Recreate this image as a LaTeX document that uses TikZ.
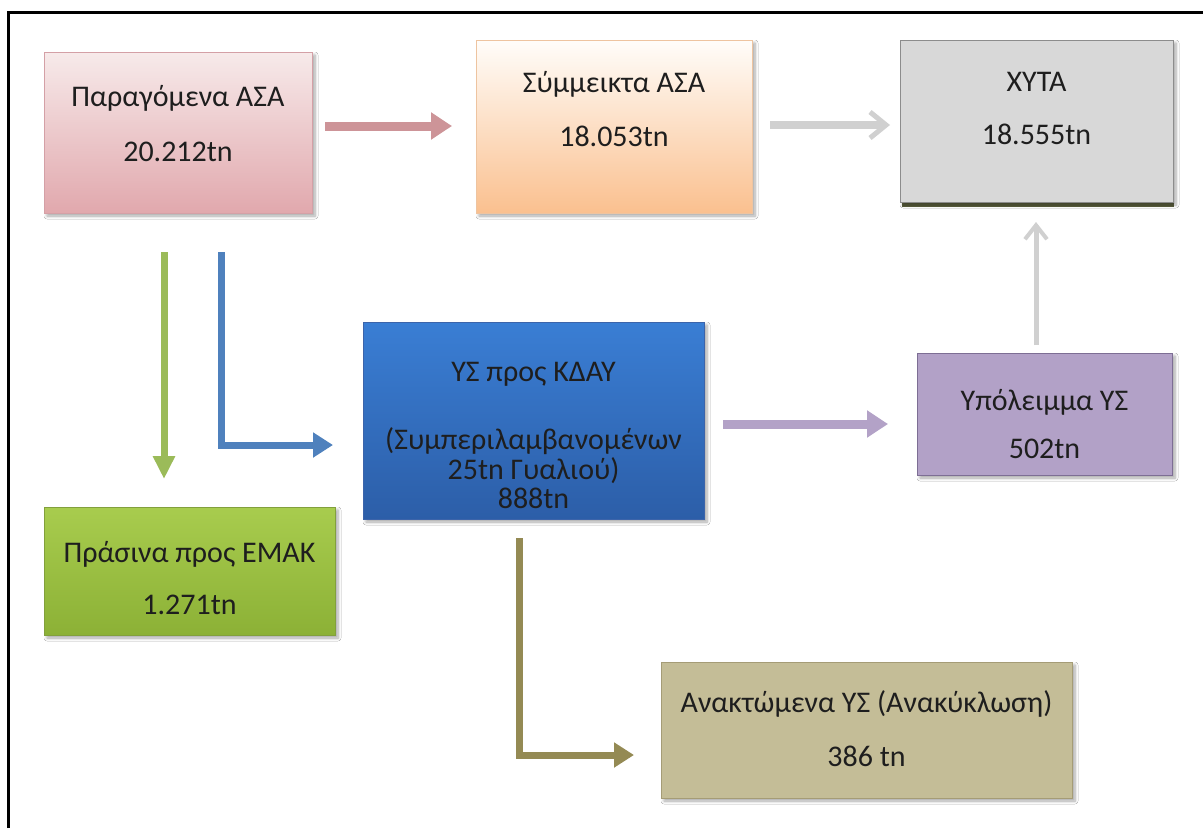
\documentclass[tikz,border=0pt]{standalone}
\usepackage{fontspec}
\setmainfont{Carlito}
\usetikzlibrary{arrows.meta,shadows.blur}
\definecolor{txt}{RGB}{30,30,30}
\definecolor{pinkA}{RGB}{205,148,152}
\definecolor{grayA}{RGB}{208,208,208}
\definecolor{greenA}{RGB}{155,187,89}
\definecolor{blueA}{RGB}{79,129,189}
\definecolor{purpleA}{RGB}{179,162,199}
\definecolor{oliveA}{RGB}{148,138,84}
\definecolor{pinkT}{RGB}{247,234,234}
\definecolor{pinkB}{RGB}{225,168,173}
\definecolor{pinkD}{RGB}{212,160,166}
\definecolor{peachT}{RGB}{255,253,250}
\definecolor{peachB}{RGB}{250,192,143}
\definecolor{peachD}{RGB}{238,196,160}
\definecolor{grayF}{RGB}{216,216,216}
\definecolor{grayD}{RGB}{140,140,140}
\definecolor{blueT}{RGB}{58,126,212}
\definecolor{blueB}{RGB}{44,94,168}
\definecolor{blueD}{RGB}{60,100,170}
\definecolor{purpleF}{RGB}{178,161,199}
\definecolor{purpleD}{RGB}{125,110,148}
\definecolor{greenT}{RGB}{168,204,78}
\definecolor{greenB}{RGB}{140,177,54}
\definecolor{greenD}{RGB}{130,160,60}
\definecolor{tanF}{RGB}{196,189,151}
\definecolor{tanD}{RGB}{165,156,118}
\definecolor{xytaS}{RGB}{92,96,62}
\tikzset{
  box/.style={rectangle, inner sep=0pt, line width=0.8pt,
    blur shadow={shadow xshift=3pt, shadow yshift=-3pt, shadow blur radius=3pt, shadow blur steps=6, shadow opacity=35}},
  lbl/.style={font=\fontsize{30}{34}\selectfont, text=txt, inner sep=0pt, anchor=base},
  fatarrow/.style={line width=9pt, -{Triangle[length=21pt,width=26pt]}},
  midarrow/.style={line width=7pt, -{Triangle[length=20pt,width=24pt]}},
  greyarrow/.style={draw=grayA, line width=8pt, -{Straight Barb[length=16pt,width=26pt,line width=5pt]}},
  greyarrowthin/.style={draw=grayA, line width=5pt, -{Straight Barb[length=14pt,width=22pt,line width=4pt]}}
}
\begin{document}
\begin{tikzpicture}[x=1pt,y=-1pt]
\useasboundingbox (0,0) rectangle (1203,828);
\fill[white] (0,0) rectangle (1203,828);
\draw[line width=3pt] (8,828) -- (8,12) -- (1203,12);

% boxes
\node[box, draw=pinkD, top color=pinkT, bottom color=pinkB,
  minimum width=268pt, minimum height=161pt] (b1) at (178,132.5) {};
\node[box, draw=peachD, top color=peachT, bottom color=peachB,
  minimum width=276pt, minimum height=173pt] (b2) at (614,126.5) {};
\fill[xytaS] (902,199) rectangle (1174,207);
\node[box, draw=grayD, fill=grayF,
  minimum width=273pt, minimum height=162pt] (b3) at (1036.5,121) {};
\node[box, draw=blueD, top color=blueT, bottom color=blueB,
  minimum width=341pt, minimum height=197pt] (b4) at (533.5,420.5) {};
\node[box, draw=purpleD, fill=purpleF,
  minimum width=255pt, minimum height=122pt] (b5) at (1044.5,414) {};
\node[box, draw=greenD, top color=greenT, bottom color=greenB,
  minimum width=291pt, minimum height=128pt] (b6) at (189.5,571) {};
\node[box, draw=tanD, fill=tanF,
  minimum width=411pt, minimum height=136pt] (b7) at (866.5,730) {};

% texts
\node[lbl] (t1a) at (178,106) {Παραγόμενα ΑΣΑ};
\node[lbl] (t1b) at (178,161) {20.212tn};
\node[lbl] (t2a) at (614,92) {Σύμμεικτα ΑΣΑ};
\node[lbl] (t2b) at (614,146) {18.053tn};
\node[lbl] (t3a) at (1036.5,91) {ΧΥΤΑ};
\node[lbl] (t3b) at (1036.5,144) {18.555tn};
\node[lbl] (t4a) at (533.5,381) {ΥΣ προς ΚΔΑΥ};
\node[lbl] (t4b) at (533.5,449) {(Συμπεριλαμβανομένων};
\node[lbl] (t4c) at (533.5,479) {25tn Γυαλιού)};
\node[lbl] (t4d) at (533.5,508) {888tn};
\node[lbl] (t5a) at (1044.5,410) {Υπόλειμμα ΥΣ};
\node[lbl] (t5b) at (1044.5,458) {502tn};
\node[lbl] (t6a) at (189.5,562) {Πράσινα προς ΕΜΑΚ};
\node[lbl] (t6b) at (189.5,614) {1.271tn};
\node[lbl] (t7a) at (866.5,712) {Ανακτώμενα ΥΣ (Ανακύκλωση)};
\node[lbl] (t7b) at (866.5,766) {386 tn};

% connector end points
\coordinate (p1s) at (325,126);
\coordinate (p1e) at (452,126);
\coordinate (g1s) at (770,125);
\coordinate (g1e) at (890,125);
\coordinate (g2s) at (1036,345);
\coordinate (g2e) at (1036,222);
\coordinate (grs) at (164,252);
\coordinate (gre) at (164,479);
\coordinate (bls) at (221,252);
\coordinate (blc) at (221,445);
\coordinate (ble) at (333,445);
\coordinate (pus) at (723,424);
\coordinate (pue) at (888,424);
\coordinate (ols) at (519,538);
\coordinate (olc) at (519,755);
\coordinate (ole) at (634,755);

% connectors
\draw[fatarrow, draw=pinkA] (p1s) -- (p1e);
\draw[greyarrow] (g1s) -- (g1e);
\draw[greyarrowthin] (g2s) -- (g2e);
\draw[draw=greenA, line width=7pt, -{Triangle[length=23pt,width=21pt]}] (grs) -- (gre);
\draw[midarrow, draw=blueA] (bls) -- (blc) -- (ble);
\draw[fatarrow, draw=purpleA] (pus) -- (pue);
\draw[midarrow, draw=oliveA] (ols) -- (olc) -- (ole);
\end{tikzpicture}
\end{document}
